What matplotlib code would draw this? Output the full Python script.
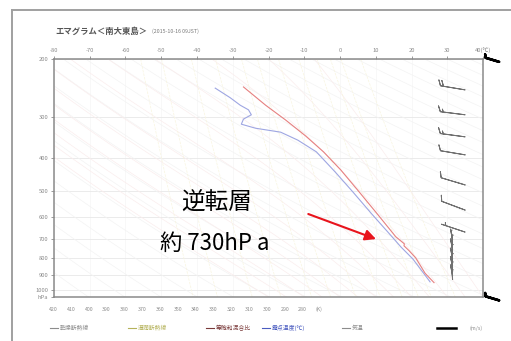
import numpy as np
import matplotlib
matplotlib.use("Agg")
import matplotlib.pyplot as plt
from matplotlib.lines import Line2D
from matplotlib.ticker import NullLocator, FixedLocator, FixedFormatter

plt.rcParams['font.family'] = ['Noto Sans CJK JP', 'DejaVu Sans']

# ---- sounding data -------------------------------------------------------
temp_p = [950, 890, 800, 760, 735, 725, 690, 581, 498, 433, 382, 342, 306, 276, 243]
temp_t = [26.3, 23.8, 21.2, 19.3, 17.9, 18.0, 15.6, 10.0, 4.9, 0.2, -4.6, -9.6, -15.2, -20.8, -27.0]

dew_p = [945, 806, 740, 691, 589, 505, 440, 382, 352, 333, 324, 315, 304, 295, 285, 276, 262, 245]
dew_t = [25.2, 20.4, 17.0, 14.6, 8.9, 3.6, -1.3, -6.6, -11.8, -16.6, -23.6, -27.6,
         -27.0, -24.8, -25.6, -27.9, -30.7, -34.9]

# upper winds (m/s)
wind_p = [248, 295, 344, 390, 481, 573, 668]
wind_u = [18, 16, 15, 12, 10, 8, 6]
wind_v = [-3, -2, -2, -2, -3, -3, -2]

# low-level winds (m/s)
low_p = [705, 730, 755, 780, 805, 830, 855, 880, 905, 930]
low_u = [1, 0.5, 1, 0.5, 1, 0.5, 1, 0.5, 1, 0.5]
low_v = [-5, -6, -5, -6, -5, -6, -5, -6, -5, -6]

# scale marks at top/bottom of the wind column
edge_p = [204, 1075]
edge_u = [10, 10]
edge_v = [-3, -3]

# axis labels
p_levels = [200, 300, 400, 500, 600, 700, 800, 900, 1000]
t_ticks = [-80, -70, -60, -50, -40, -30, -20, -10, 0, 10, 20, 30, 40]
t_labels = ['-80', '-70', '-60', '-50', '-40', '-30', '-20', '-10', '0', '10', '20', '30', '40(℃)']
theta_labels = ['420', '410', '400', '390', '380', '370', '360', '350', '340', '330',
                '320', '310', '300', '290', '280', '(K)']

legend_items = [('乾燥断熱線', '#8c8c8c'), ('湿潤断熱線', '#b5b25a'),
                ('等飽和混合比', '#7a3a3a'), ('露点温度(℃)', '#4a5cc0'), ('気温', '#8c8c8c')]
legend_x = [50, 128, 206, 262, 342]

title_main = 'エマグラム＜南大東島＞'
title_sub = '(2015-10-16 09JST)'

# ---- figure --------------------------------------------------------------
W, H = 511, 341
fig = plt.figure(figsize=(W / 100, H / 100), dpi=100)
fig.patch.set_facecolor('white')

# outer frame
fig.add_artist(Line2D([12 / W, 1.0], [1 - 10 / H, 1 - 10 / H], color='#a0a0a0', lw=1.4))
fig.add_artist(Line2D([12 / W, 12 / W], [0, 1 - 10 / H], color='#a0a0a0', lw=1.4))

ax = fig.add_axes([54 / W, 1 - 297 / H, 429 / W, 238 / H])
ax.set_yscale('log')
ax.set_ylim(1050, 200)
ax.set_xlim(-80, 40)

# background diagram lines
pp = np.geomspace(200, 1050, 120)
for T in range(-80, 41, 10):
    ax.axvline(T, color='#f5f5f5', lw=0.5, zorder=0)
for p in p_levels:
    ax.axhline(p, color='#e8e8e8', lw=0.6, zorder=0)
for theta in range(200, 520, 10):
    ax.plot(theta * (pp / 1000.0) ** 0.2857 - 273.15, pp, color='#f3f3f3', lw=0.5, zorder=0)

# pseudo-adiabats
Rd, cp, Lv, eps = 287.0, 1004.0, 2.5e6, 0.622


def sat_mixing(Tk, p):
    es = 6.112 * np.exp(17.67 * (Tk - 273.15) / (Tk - 29.65))
    return eps * es / (p - es)


for t0 in range(-20, 41, 5):
    Tk = t0 + 273.15
    ps = [1050.0]
    ts = [Tk]
    p = 1050.0
    while p > 200:
        rs = sat_mixing(Tk, p)
        dTdp = (Rd * Tk + Lv * rs) / (p * (cp + Lv * Lv * rs * eps / (Rd * Tk * Tk)))
        dp = -5.0
        Tk += dTdp * dp
        p += dp
        ps.append(p)
        ts.append(Tk)
    ax.plot(np.array(ts) - 273.15, ps, color='#faeded', lw=0.5, zorder=0)

# saturation mixing ratio lines
for w in [0.1, 0.2, 0.5, 1, 2, 3, 5, 8, 12, 16, 20, 30]:
    wk = w / 1000.0
    e = wk * pp / (eps + wk)
    ln = np.log(e / 6.112)
    ax.plot(243.5 * ln / (17.67 - ln), pp, color='#f8f5e0', lw=0.5, ls='--', zorder=0)

# sounding
ax.plot(dew_t, dew_p, color='#9ea6e2', lw=0.8, zorder=3)
ax.plot(temp_t, temp_p, color='#e68080', lw=0.8, zorder=4)

# winds
barb_sizes = dict(height=0.22, spacing=0.12, width=0.2)
ax.barbs(np.full(len(wind_p), 35.0), wind_p, wind_u, wind_v, length=6, sizes=barb_sizes,
         color='#707070', linewidth=0.7, zorder=5, clip_on=False)
ax.barbs(np.full(len(low_p), 31.5), low_p, low_u, low_v, length=4, sizes=barb_sizes,
         color='#707070', linewidth=0.7, zorder=5, clip_on=False)
ax.barbs(np.full(len(edge_p), 44.5), edge_p, edge_u, edge_v, length=4.5, sizes=barb_sizes,
         color='black', linewidth=1.8, zorder=5, clip_on=False)

# axes styling
for s in ax.spines.values():
    s.set_color('#8a8a8a')
    s.set_linewidth(1.1)
ax.yaxis.set_minor_locator(NullLocator())
ax.yaxis.set_major_locator(FixedLocator(p_levels + [1050]))
ax.yaxis.set_major_formatter(FixedFormatter([str(v) for v in p_levels] + ['hPa']))
ax.xaxis.tick_top()
ax.xaxis.set_major_locator(FixedLocator(t_ticks))
ax.xaxis.set_major_formatter(FixedFormatter(t_labels))
ax.tick_params(axis='both', labelsize=4.2, colors='#8a8a8a', length=2, width=0.6, pad=2)

# bottom label row
for i, lab in enumerate(theta_labels):
    ax.text(-0.012 + i * 0.0415, -0.04, lab, transform=ax.transAxes, fontsize=3.8,
            color='#8a8a8a', ha='left', va='top')

# title
fig.text(55 / W, 1 - 31 / H, title_main, fontsize=6, fontweight='bold', color='#555555',
         ha='left', va='center')
fig.text(152 / W, 1 - 31 / H, title_sub, fontsize=3.8, color='#777777', ha='left', va='center')

# legend row
for (label, col), x0 in zip(legend_items, legend_x):
    fig.add_artist(Line2D([x0 / W, (x0 + 8) / W], [1 - 328 / H] * 2, color=col, lw=0.8))
    fig.text((x0 + 10) / W, 1 - 328 / H, label, fontsize=4.2, color=col, ha='left', va='center')
fig.add_artist(Line2D([437 / W, 456 / W], [1 - 328 / H] * 2, color='black', lw=1.8))
fig.text(470 / W, 1 - 328 / H, '(m/s)', fontsize=3.8, color='#8a8a8a', ha='left', va='center')

# inversion annotation
ax.text(-34.6, 546, '逆転層', fontsize=17, color='black', ha='center', va='center', zorder=6)
ax.text(-35.1, 721, '約 730hP a', fontsize=16, color='black', ha='center', va='center', zorder=6)
ax.annotate('', xy=(10.8, 706), xytext=(-9.6, 585),
            arrowprops=dict(arrowstyle='-|>', color='#e8141c', lw=1.5, mutation_scale=16),
            zorder=6)

fig.savefig('out.png', dpi=100)
